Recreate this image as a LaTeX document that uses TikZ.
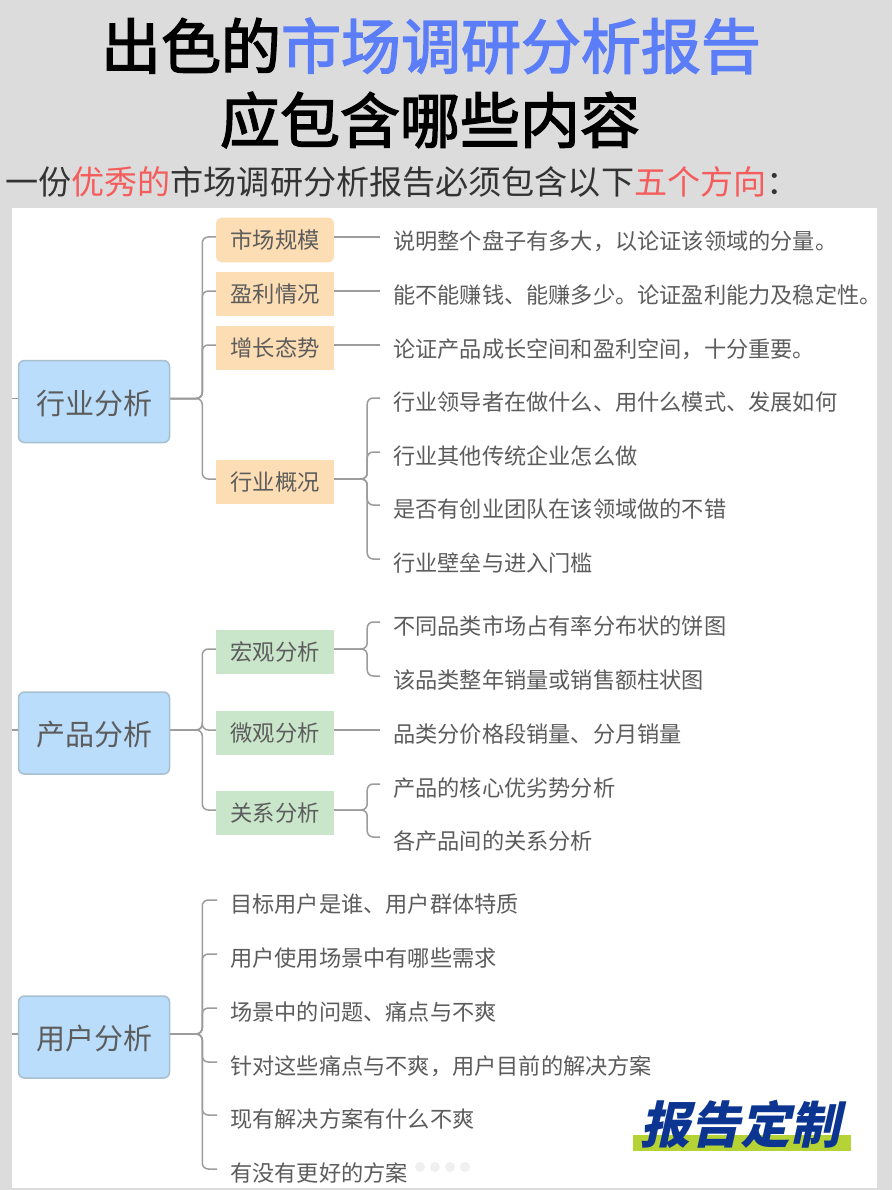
\documentclass[tikz,border=0pt]{standalone}
\usepackage{fontspec}
\setmainfont{Noto Sans CJK SC}
\newfontfamily\titlefont[FakeBold=2.4]{Noto Sans CJK SC}
\usetikzlibrary{arrows,shapes}
\definecolor{pagegray}{HTML}{DCDCDC}
\definecolor{titleblue}{HTML}{5B7DF8}
\definecolor{notered}{HTML}{F55D5D}
\definecolor{rootblue}{HTML}{B9DDFB}
\definecolor{rootline}{HTML}{A8BFD0}
\definecolor{childorange}{HTML}{FDDDB3}
\definecolor{childgreen}{HTML}{C9E6CB}
\definecolor{inkgray}{HTML}{5C5C5C}
\definecolor{wiregray}{HTML}{9C9C9C}
\definecolor{badgeblue}{HTML}{0B3590}
\definecolor{badgegreen}{HTML}{B5D334}
\tikzstyle{root}=[rectangle,rounded corners=6pt,draw=rootline,line width=1.5pt,fill=rootblue,text=inkgray,minimum width=151pt,minimum height=82pt,inner sep=0pt,font=\fontsize{29}{29}\selectfont,text height=27pt,text depth=2pt]
\tikzstyle{child}=[rectangle,minimum width=118pt,minimum height=44.5pt,inner sep=0pt,text=inkgray,font=\fontsize{22.3}{22.3}\selectfont,text height=20.5pt,text depth=2.8pt]
\tikzstyle{leaf}=[anchor=west,inner xsep=13pt,inner ysep=0pt,text=inkgray,font=\fontsize{22.2}{22.2}\selectfont,text height=20.5pt,text depth=2.2pt]
\tikzstyle{edge}=[draw=wiregray,line width=1.5pt,rounded corners=6pt]

\begin{document}
\begin{tikzpicture}[x=1pt,y=-1pt]

    \useasboundingbox (0,0) rectangle (892,1190);
    \fill[pagegray] (0,0) rectangle (892,1190);
    \fill[white] (12,208) rectangle (877,1188);

    \node[inner sep=0pt,font=\fontsize{60}{60}\titlefont] (title) at (431,46) {出色的\textcolor{titleblue}{市场调研分析报告}};
    \node[inner sep=0pt,font=\fontsize{60}{60}\titlefont] (subtitle) at (430,120) {应包含哪些内容};
    \node[inner sep=0pt,anchor=west,text=black!80,font=\fontsize{33.1}{33}\selectfont] (intro) at (5,182) {一份\textcolor{notered}{优秀的}市场调研分析报告必须包含以下\textcolor{notered}{五个方向}：};

    \foreach \y/\name/\txt in {401.5/industry/行业分析, 733/product/产品分析, 1037/user/用户分析}
        \node[root] (\name) at (94,\y) {\txt};

    \foreach \y/\name/\txt in {294/profit/盈利情况, 348/growth/增长态势, 482/overview/行业概况}
        \node[child, fill=childorange] (\name) at (275,\y) {\txt};
    \node[child, fill=childorange, rounded corners=6pt] (scale) at (275,240) {市场规模};

    \foreach \y/\name/\txt in {652/macro/宏观分析, 733/micro/微观分析, 813/relation/关系分析}
        \node[child, fill=childgreen] (\name) at (275,\y) {\txt};

    \foreach \y/\name/\txt in {240/a/说明整个盘子有多大，以论证该领域的分量。,
                               294/b/能不能赚钱、能赚多少。论证盈利能力及稳定性。,
                               348/c/论证产品成长空间和盈利空间，十分重要。,
                               401/d/行业领导者在做什么、用什么模式、发展如何,
                               455/e/行业其他传统企业怎么做,
                               508/f/是否有创业团队在该领域做的不错,
                               562/g/行业壁垒与进入门槛,
                               625/h/不同品类市场占有率分布状的饼图,
                               679/i/该品类整年销量或销售额柱状图,
                               733/j/品类分价格段销量、分月销量,
                               787/k/产品的核心优劣势分析,
                               840/l/各产品间的关系分析}
        \node[leaf] (\name) at (380,\y) {\txt};

    \foreach \y/\name/\txt in {903/m/目标用户是谁、用户群体特质,
                               957/n/用户使用场景中有哪些需求,
                               1011/o/场景中的问题、痛点与不爽,
                               1065/p/针对这些痛点与不爽，用户目前的解决方案,
                               1118/q/现有解决方案有什么不爽,
                               1172/r/有没有更好的方案}
        \node[leaf] (\name) at (217,\y) {\txt};

    \foreach \source/\dest in {industry/scale, industry/profit, industry/growth, industry/overview,
                               product/macro, product/micro, product/relation,
                               user/m, user/n, user/o, user/p, user/q, user/r}
        \draw[edge] ([yshift=3pt]\source.east) -- ++(32,0) |- ([yshift=3pt]\dest.west);

    \foreach \source/\dest in {overview/d, overview/e, overview/f, overview/g, macro/h, macro/i, relation/k, relation/l}
        \draw[edge] ([yshift=3pt]\source.east) -- ++(33,0) |- ([yshift=3pt]\dest.west);

    \foreach \source/\dest in {scale/a, profit/b, growth/c, micro/j}
        \draw[edge] ([yshift=3pt]\source.east) -- ([yshift=3pt]\dest.west);

    \foreach \y/\name in {398.5/industry, 730/product, 1034/user} {
        \coordinate (\name stub) at (12,\y);
        \draw[edge] (\name stub) -- ([yshift=3pt]\name.west);
    }

    \foreach \x in {420,435,450,465}
        \fill[black!6] (\x,1167) circle (5pt);

    % badge
    \fill[badgegreen] (633,1135) rectangle (851,1151);
    \node[inner sep=0pt,xslant=0.22,text=badgeblue,font=\fontsize{50}{50}\selectfont\bfseries] (badge) at (745,1124) {报告定制};

\end{tikzpicture}
\end{document}
